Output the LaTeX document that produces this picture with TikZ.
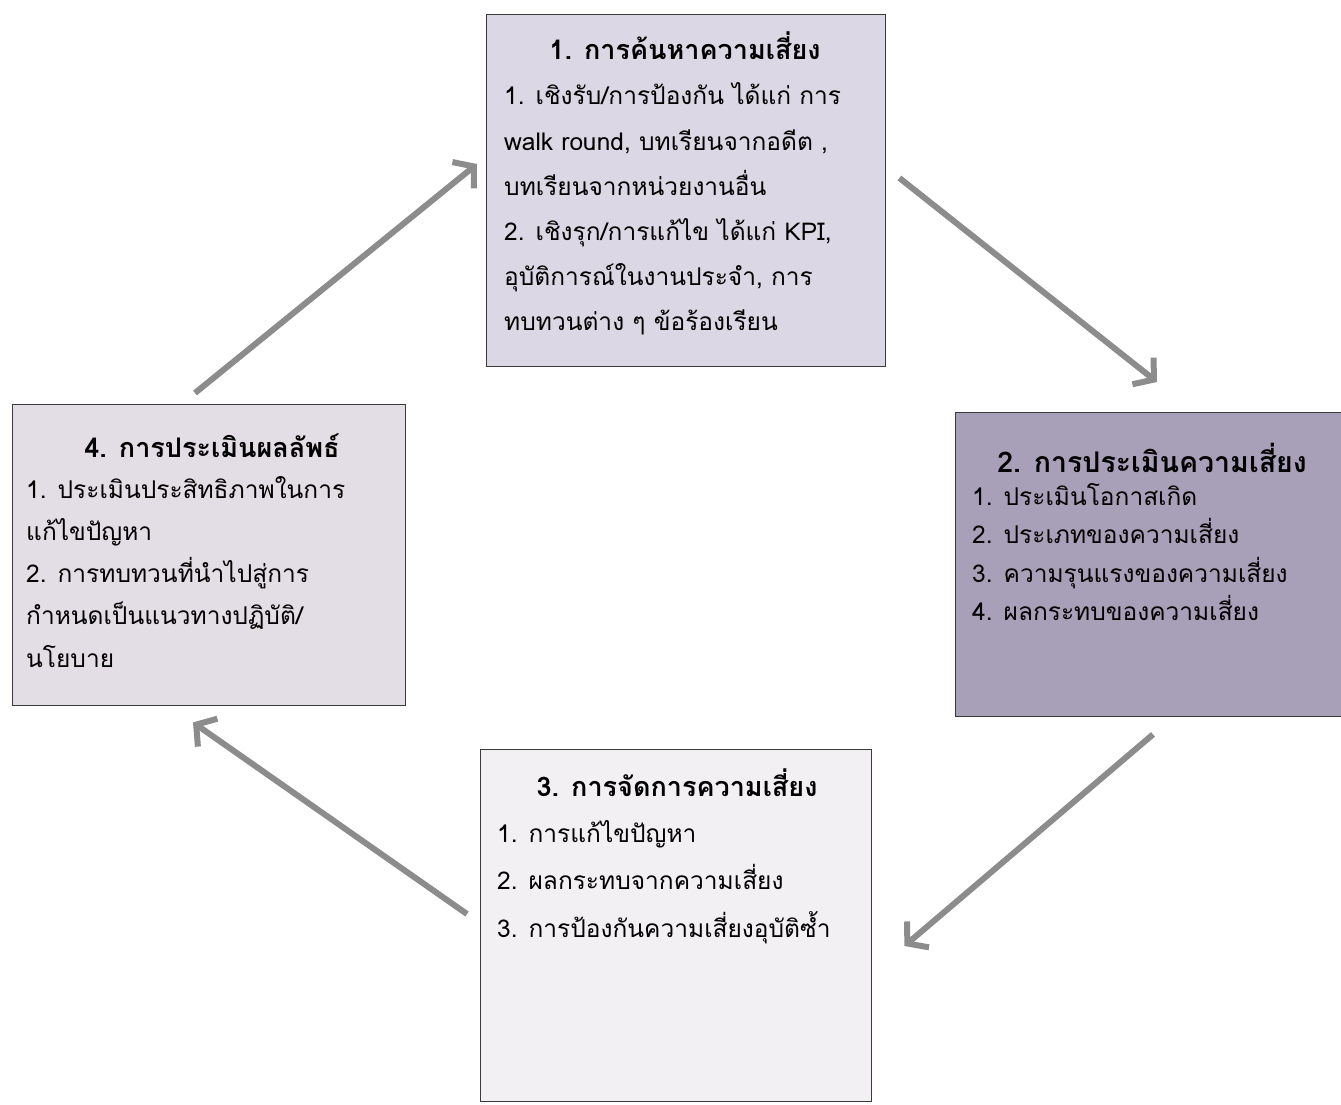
\documentclass[tikz,border=0pt]{standalone}
\usepackage{fontspec}
\setmainfont[Script=Thai]{Loma}
\usetikzlibrary{arrows.meta}
\definecolor{fillA}{HTML}{DCD7E4}
\definecolor{fillB}{HTML}{A8A0B8}
\definecolor{fillC}{HTML}{F2F0F3}
\definecolor{fillD}{HTML}{E3DDE6}
\definecolor{arrowgray}{HTML}{8C8C8C}
\definecolor{edge}{HTML}{3A3A3A}
\newcommand\boxlines[2]{\vtop{\baselineskip=#1\lineskiplimit=-200pt\lineskip=0pt #2}}
\begin{document}
\begin{tikzpicture}[x=1pt,y=-1pt,
  stagebox/.style={draw=edge, line width=1.4pt, rectangle, anchor=north west, inner sep=0pt},
  title/.style={anchor=base, inner sep=0pt, font=\fontsize{27}{30}\selectfont\bfseries},
  body/.style={anchor=base west, inner sep=0pt, font=\fontsize{24.5}{28}\selectfont},
  flow/.style={draw=arrowgray, line width=6pt, -{Straight Barb[length=14pt,width=34pt]}}]
\useasboundingbox (0,0) rectangle (1341,1105);
\begin{scope}
\clip (0,0) rectangle (1341,1105);
% boxes
\node[stagebox, fill=fillA, minimum width=399pt, minimum height=352pt] (b1) at (486,14) {};
\node[stagebox, fill=fillB, minimum width=400pt, minimum height=304pt] (b2) at (955,412) {};
\node[stagebox, fill=fillC, minimum width=391pt, minimum height=352pt] (b3) at (480,749) {};
\node[stagebox, fill=fillD, minimum width=393pt, minimum height=301pt] (b4) at (12,404) {};
% box 1 text
\node[title] (h1) at (685,60) {1. การค้นหาความเสี่ยง};
\node[body] (t1) at (504,105) {\boxlines{45.2pt}{%
\hbox{1. เชิงรับ/การป้องกัน ได้แก่ การ}
\hbox{walk round, บทเรียนจากอดีต ,}
\hbox{บทเรียนจากหน่วยงานอื่น}
\hbox{2. เชิงรุก/การแก้ไข ได้แก่ KPI,}
\hbox{อุบัติการณ์ในงานประจำ, การ}
\hbox{ทบทวนต่าง ๆ ข้อร้องเรียน}}};
% box 2 text
\node[title, font=\fontsize{28.5}{32}\selectfont\bfseries] (h2) at (1152,472) {2. การประเมินความเสี่ยง};
\node[body] (t2) at (972,505) {\boxlines{38.5pt}{%
\hbox{1. ประเมินโอกาสเกิด}
\hbox{2. ประเภทของความเสี่ยง}
\hbox{3. ความรุนแรงของความเสี่ยง}
\hbox{4. ผลกระทบของความเสี่ยง}}};
% box 3 text
\node[title] (h3) at (677,796) {3. การจัดการความเสี่ยง};
\node[body] (t3) at (497,842) {\boxlines{47.5pt}{%
\hbox{1. การแก้ไขปัญหา}
\hbox{2. ผลกระทบจากความเสี่ยง}
\hbox{3. การป้องกันความเสี่ยงอุบัติซ้ำ}}};
% box 4 text
\node[title] (h4) at (212,457) {4. การประเมินผลลัพธ์};
\node[body] (t4) at (26,498) {\boxlines{42.3pt}{%
\hbox{1. ประเมินประสิทธิภาพในการ}
\hbox{แก้ไขปัญหา}
\hbox{2. การทบทวนที่นำไปสู่การ}
\hbox{กำหนดเป็นแนวทางปฏิบัติ/}
\hbox{นโยบาย}}};
\end{scope}
% connectors
\draw[flow] ([shift={(183,-11)}]b4.north west) -- ([shift={(-9,150)}]b1.north west);
\draw[flow] ([shift={(13,164)}]b1.north east) -- ([shift={(202,-30)}]b2.north west);
\draw[flow] ([shift={(198,17)}]b2.south west) -- ([shift={(32,197)}]b3.north east);
\draw[flow] ([shift={(-13,165)}]b3.north west) -- ([shift={(181,16)}]b4.south west);
\end{tikzpicture}
\end{document}
